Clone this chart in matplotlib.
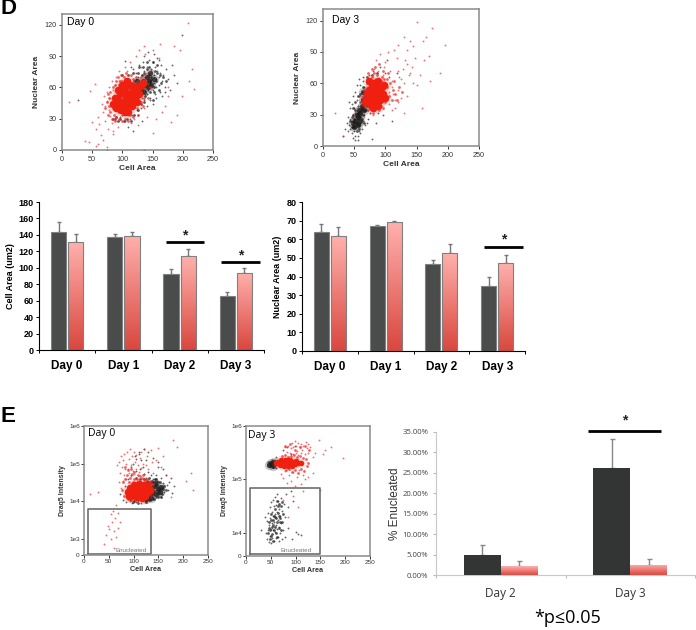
"""
Panels D and E: scatter plots of cell area against nuclear area / Draq5,
and the bar charts with the group means. Scatter points are read by eye,
thinned out; the dense centres are drawn with bigger markers.
"""
import numpy as np
from matplotlib import pyplot as plt

W, H = 696, 630
BLACK_BAR = '#4a4c4b'
DARK_BAR = '#333534'
TOP_RED = '#ffb0ac'
LOW_RED = '#d9483f'

# panel D, day 0
d0_black_x = [26, 75, 135, 88, 92, 96, 100, 104, 108, 112, 116, 118, 120, 122, 124, 126, 128, 128, 130, 130, 132, 132, 134, 134, 136, 136, 138, 138, 140, 140, 142, 142, 144, 144, 146, 146, 148, 148, 150, 150, 152, 152, 154, 154, 156, 156, 158, 158, 160, 160, 162, 162, 164, 166, 168, 170, 172, 175, 178, 182, 185, 190, 198, 110, 118, 125, 132, 140, 145, 150, 155, 165, 170, 105, 115, 122, 135, 143, 147, 153, 161]
d0_black_y = [48, 0, 0, 30, 36, 32, 34, 28, 36, 30, 34, 78, 42, 74, 38, 70, 46, 82, 40, 66, 72, 50, 58, 84, 48, 76, 62, 70, 54, 80, 66, 58, 72, 86, 50, 62, 76, 68, 58, 84, 64, 72, 54, 80, 68, 60, 76, 88, 62, 70, 74, 56, 82, 66, 72, 60, 78, 68, 58, 82, 72, 64, 110, 22, 18, 34, 28, 42, 48, 44, 50, 52, 56, 85, 80, 68, 90, 94, 78, 92, 86]
d0_red_x = [12, 38, 45, 46, 50, 55, 56, 57, 60, 62, 65, 66, 68, 70, 72, 72, 74, 75, 76, 78, 78, 80, 80, 82, 82, 84, 85, 85, 88, 90, 92, 95, 98, 100, 104, 105, 110, 112, 115, 120, 122, 125, 128, 130, 135, 138, 140, 145, 150, 155, 160, 163, 170, 175, 180, 185, 190, 195, 198, 208, 210, 215, 219, 60, 68, 74, 84, 88, 94, 100, 108, 120, 135, 150, 165, 175]
d0_red_y = [46, 9, 8, 57, 27, 63, 20, 4, 32, 25, 14, 44, 36, 52, 42, 28, 56, 47, 20, 38, 60, 33, 50, 26, 66, 44, 58, 15, 30, 70, 22, 76, 60, 34, 80, 28, 68, 84, 26, 74, 90, 24, 96, 80, 100, 92, 32, 76, 16, 30, 88, 102, 42, 60, 27, 100, 34, 96, 52, 122, 66, 78, 59, 6, 10, 3, 18, 62, 66, 72, 76, 30, 40, 96, 36, 52]
d0_core_x = [84, 88, 90, 94, 96, 98, 100, 102, 104, 106, 106, 108, 110, 110, 112, 114, 116, 116, 118, 120, 122, 124, 126, 128, 130, 134, 92, 100, 108, 114, 122, 96, 104]
d0_core_y = [44, 50, 40, 47, 54, 38, 46, 56, 41, 50, 60, 45, 36, 54, 62, 48, 42, 56, 61, 50, 57, 46, 60, 54, 62, 64, 58, 62, 66, 52, 52, 44, 36]
d0_dark_x = [130, 134, 138, 140, 142, 144, 146, 148, 152, 136, 124]
d0_dark_y = [58, 66, 62, 70, 60, 66, 74, 62, 68, 56, 66]
d0_mid_red_x = [72, 74, 76, 78, 78, 80, 80, 82, 82, 84, 84, 86, 88, 88, 90, 90, 92, 94, 96, 98, 100, 102, 104, 106, 110, 114, 118, 122, 126, 130, 134, 138, 142, 146, 76, 82, 88, 94, 100, 106, 112, 118, 124, 130, 136]
d0_mid_red_y = [40, 46, 34, 50, 42, 36, 56, 30, 46, 60, 40, 34, 62, 28, 66, 32, 70, 30, 66, 72, 28, 70, 30, 74, 28, 72, 32, 70, 34, 70, 42, 72, 50, 60, 54, 44, 30, 62, 66, 68, 34, 68, 40, 46, 50]
d0_mid_black_x = [90, 96, 102, 108, 114, 120, 126, 130, 132, 136, 138, 140, 144, 146, 148, 150, 152, 154, 156, 158, 160, 162, 164, 168, 172, 120, 126, 134, 140, 146, 152, 158, 128, 118, 110, 100, 92, 84, 136, 150]
d0_mid_black_y = [32, 30, 28, 30, 28, 34, 38, 44, 72, 74, 52, 78, 80, 56, 70, 84, 60, 76, 66, 82, 58, 72, 64, 70, 66, 66, 74, 80, 84, 66, 56, 74, 80, 74, 72, 72, 28, 30, 46, 48]

# panel D, day 3
d3_black_x = [32, 36, 38, 40, 40, 42, 42, 44, 44, 44, 46, 46, 46, 48, 48, 48, 50, 50, 50, 52, 52, 52, 54, 54, 54, 56, 56, 56, 58, 58, 58, 60, 60, 60, 62, 62, 62, 64, 64, 64, 66, 66, 68, 68, 70, 70, 72, 72, 74, 74, 76, 76, 78, 80, 82, 84, 88, 92, 96, 100, 105, 110, 118, 78, 85, 92, 102, 48, 52, 56, 60, 64, 70, 58, 66]
d3_black_y = [10, 16, 22, 14, 28, 20, 42, 16, 26, 36, 12, 24, 40, 18, 30, 48, 14, 24, 36, 10, 32, 52, 20, 44, 58, 6, 26, 38, 14, 48, 32, 22, 42, 58, 16, 34, 52, 24, 46, 62, 30, 56, 20, 40, 34, 62, 26, 50, 38, 68, 32, 60, 44, 72, 36, 64, 32, 76, 30, 70, 66, 24, 70, 7, 22, 38, 82, 8, 6, 10, 12, 66, 22, 64, 34]
d3_red_x = [19, 32, 45, 50, 55, 60, 65, 68, 72, 75, 78, 80, 82, 85, 88, 90, 92, 95, 96, 98, 100, 102, 104, 105, 108, 110, 112, 114, 115, 118, 120, 120, 122, 125, 128, 130, 130, 132, 135, 135, 138, 140, 142, 145, 145, 148, 150, 150, 155, 158, 160, 162, 165, 170, 172, 174, 188, 196, 105, 110, 115, 120, 125, 130, 135, 140, 100, 95, 90, 85, 110, 120]
d3_red_y = [32, 10, 22, 30, 36, 48, 28, 40, 62, 32, 68, 30, 74, 36, 72, 44, 88, 38, 68, 76, 46, 58, 90, 40, 72, 62, 50, 92, 44, 84, 54, 97, 66, 46, 74, 104, 60, 82, 48, 92, 68, 100, 76, 60, 96, 84, 119, 58, 68, 36, 100, 82, 104, 86, 62, 113, 70, 97, 52, 56, 36, 42, 64, 32, 78, 70, 80, 62, 58, 82, 34, 72]
d3_core_x = [68, 70, 72, 74, 76, 78, 78, 80, 82, 82, 84, 84, 86, 88, 88, 90, 92, 94, 96, 98, 74, 80, 88, 100]
d3_core_y = [42, 50, 46, 54, 40, 48, 58, 44, 52, 60, 40, 48, 56, 46, 62, 52, 44, 56, 50, 58, 62, 36, 38, 46]
d3_dark_x = [48, 52, 54, 56, 56, 58, 60, 60, 62, 64, 66, 68, 70, 64, 72, 50]
d3_dark_y = [22, 24, 30, 20, 28, 34, 24, 32, 38, 44, 34, 46, 40, 52, 54, 18]
d3_mid_red_x = [64, 66, 68, 70, 72, 74, 76, 78, 80, 82, 86, 90, 94, 96, 98, 100, 102, 104, 106, 108, 110, 112, 114, 116, 118, 122, 126, 72, 78, 84, 90, 96, 102]
d3_mid_red_y = [46, 54, 38, 60, 34, 64, 36, 66, 32, 70, 68, 34, 66, 36, 64, 42, 56, 70, 48, 60, 44, 54, 62, 50, 44, 56, 52, 70, 74, 76, 78, 72, 64]
d3_mid_black_x = [44, 46, 48, 50, 52, 54, 56, 58, 60, 62, 64, 66, 68, 70, 72, 74, 76, 78, 60, 64, 68, 70, 74, 78, 82, 86, 90, 52, 56, 48, 58, 62, 66, 54, 50, 46]
d3_mid_black_y = [24, 18, 30, 26, 34, 22, 32, 16, 28, 36, 30, 40, 34, 46, 38, 50, 36, 62, 50, 56, 52, 66, 60, 68, 34, 70, 38, 42, 48, 36, 20, 26, 22, 14, 18, 28]

# panel E, day 0, y as log10 of the Draq5 intensity
e0_black_x = [72, 78, 82, 85, 88, 90, 92, 95, 96, 98, 100, 102, 104, 105, 108, 110, 112, 115, 118, 120, 122, 125, 125, 128, 130, 130, 132, 135, 135, 138, 140, 140, 142, 145, 145, 148, 150, 150, 152, 155, 155, 158, 160, 162, 165, 168, 170, 172, 175, 178, 182, 110, 120, 130, 140, 150, 160, 105, 95, 115]
e0_black_y = [4.2, 4.02, 4.4, 3.98, 4.6, 4.1, 4.0, 4.7, 3.94, 5.0, 4.02, 5.2, 3.98, 4.8, 4.0, 5.25, 4.85, 3.96, 4.9, 4.72, 4.0, 4.62, 5.1, 4.05, 4.78, 4.55, 4.02, 4.7, 4.25, 4.5, 4.6, 4.05, 4.4, 4.7, 4.12, 4.55, 4.3, 4.9, 4.2, 4.62, 4.12, 4.35, 4.48, 4.25, 4.7, 4.42, 4.3, 4.5, 4.62, 4.22, 4.4, 5.3, 5.4, 5.3, 5.15, 5.05, 4.85, 5.12, 4.92, 5.1]
e0_red_x = [12, 28, 45, 48, 54, 56, 58, 60, 62, 64, 65, 66, 68, 70, 70, 72, 74, 75, 76, 78, 78, 80, 80, 82, 84, 85, 86, 88, 90, 90, 92, 94, 95, 96, 98, 100, 100, 102, 105, 105, 108, 110, 112, 114, 115, 118, 120, 120, 125, 128, 130, 135, 138, 140, 145, 150, 155, 160, 165, 175, 180, 187, 205, 215, 220, 40, 50, 55, 60, 68, 72]
e0_red_y = [4.2, 4.25, 3.1, 3.35, 3.65, 3.45, 3.75, 3.2, 3.55, 3.05, 3.9, 4.95, 3.7, 4.5, 5.05, 4.75, 5.2, 4.35, 4.9, 5.1, 4.55, 4.7, 5.25, 4.85, 5.0, 4.6, 5.3, 4.85, 4.75, 5.12, 5.38, 4.95, 4.68, 5.2, 4.8, 4.72, 5.3, 5.05, 4.85, 5.22, 4.95, 4.78, 5.15, 4.88, 5.32, 5.0, 4.72, 5.4, 4.95, 5.2, 4.85, 5.35, 5.05, 4.75, 5.1, 5.42, 4.9, 5.2, 4.7, 4.1, 5.62, 5.45, 4.55, 4.75, 4.3, 2.85, 3.25, 3.0, 2.75, 3.3, 3.45]
e0_core_x = [88, 92, 94, 98, 100, 102, 104, 106, 108, 110, 112, 114, 116, 118, 120, 122, 124, 126, 128, 130, 96, 110, 118, 104, 90, 134]
e0_core_y = [4.25, 4.35, 4.15, 4.3, 4.42, 4.2, 4.35, 4.1, 4.28, 4.45, 4.18, 4.33, 4.08, 4.25, 4.42, 4.15, 4.32, 4.22, 4.4, 4.26, 4.22, 4.35, 4.36, 4.28, 4.15, 4.3]
e0_dark_x = [130, 134, 138, 142, 146, 150, 154, 136, 144, 126, 156, 128]
e0_dark_y = [4.15, 4.35, 4.22, 4.4, 4.18, 4.32, 4.25, 4.08, 4.48, 4.05, 4.38, 4.48]
e0_mid_red_x = [76, 78, 80, 82, 84, 86, 88, 90, 92, 94, 96, 98, 100, 104, 108, 112, 116, 120, 124, 128, 132, 136, 140, 82, 88, 94, 100, 106, 112, 118]
e0_mid_red_y = [4.3, 4.5, 4.15, 4.6, 4.28, 4.7, 4.05, 4.5, 4.62, 4.03, 4.72, 4.52, 4.6, 4.02, 4.7, 4.55, 4.62, 4.6, 4.55, 4.6, 4.5, 4.55, 4.45, 4.9, 4.82, 4.85, 4.78, 4.6, 4.68, 4.7]
e0_mid_black_x = [100, 108, 116, 124, 130, 134, 138, 142, 146, 150, 154, 158, 162, 166, 120, 126, 132, 138, 144, 150, 156, 92, 98, 104, 112, 86, 148, 160, 142, 134]
e0_mid_black_y = [4.0, 3.96, 4.02, 3.98, 4.1, 4.02, 4.55, 4.05, 4.6, 4.1, 4.5, 4.2, 4.4, 4.3, 4.58, 4.02, 4.62, 4.5, 4.58, 4.5, 4.12, 4.05, 3.98, 4.62, 4.6, 4.15, 4.42, 4.32, 4.28, 4.5]

# panel E, day 3
e3_black_x = [30, 38, 40, 42, 42, 44, 44, 46, 46, 48, 48, 48, 50, 50, 50, 52, 52, 52, 54, 54, 54, 56, 56, 56, 58, 58, 58, 60, 60, 60, 62, 62, 62, 64, 64, 64, 66, 66, 68, 68, 70, 70, 72, 74, 76, 78, 80, 84, 90, 95, 105, 110, 66, 72, 78, 84, 92, 100, 44, 48, 52, 60, 74, 82, 90, 98, 72, 60, 54, 50]
e3_black_y = [4.05, 4.3, 4.0, 4.22, 3.88, 4.05, 4.38, 3.84, 4.15, 4.48, 3.95, 4.28, 4.08, 3.82, 4.58, 4.18, 3.9, 4.4, 4.05, 4.32, 4.62, 3.85, 4.2, 4.5, 4.02, 4.35, 4.68, 3.9, 4.15, 4.52, 4.08, 4.4, 4.72, 3.92, 4.25, 4.6, 4.12, 4.45, 4.0, 4.32, 4.18, 4.66, 4.42, 4.05, 4.55, 4.3, 4.72, 4.48, 4.78, 4.6, 3.98, 3.96, 3.85, 3.88, 3.92, 4.1, 3.88, 4.02, 5.32, 5.27, 5.36, 5.42, 5.56, 5.6, 5.48, 5.62, 5.35, 5.22, 5.24, 5.3]
e3_red_x = [78, 82, 85, 88, 90, 92, 95, 95, 98, 100, 100, 102, 105, 105, 108, 110, 110, 112, 115, 118, 120, 122, 125, 125, 130, 135, 140, 148, 155, 160, 172, 195, 70, 74, 78, 82, 86, 90, 94, 98, 102, 106, 110, 114, 118, 75, 85, 95, 105, 115, 125, 135, 150]
e3_red_y = [5.6, 5.52, 5.62, 5.5, 5.58, 5.68, 5.48, 5.6, 5.72, 5.5, 5.62, 5.54, 5.68, 5.46, 5.6, 5.5, 5.66, 5.56, 5.62, 5.48, 5.7, 5.58, 5.5, 5.66, 5.6, 5.42, 5.5, 5.74, 5.48, 5.55, 5.6, 5.4, 5.1, 5.02, 5.16, 4.94, 5.08, 4.98, 5.14, 4.88, 5.04, 5.18, 4.92, 5.08, 5.0, 4.62, 4.3, 4.7, 4.48, 4.78, 5.05, 5.12, 4.8]
e3_core_x = [60, 64, 68, 70, 72, 76, 78, 80, 84, 84, 88, 88, 92, 94, 98, 100, 104, 110, 74]
e3_core_y = [5.3, 5.33, 5.28, 5.36, 5.31, 5.26, 5.36, 5.31, 5.25, 5.37, 5.3, 5.36, 5.26, 5.33, 5.29, 5.34, 5.3, 5.31, 5.33]
e3_dark_x = [46, 50, 54, 56]
e3_dark_y = [5.27, 5.31, 5.26, 5.33]
e3_mid_red_x = [72, 78, 84, 90, 96, 102, 108, 114, 120, 126, 80, 86, 92, 98, 104, 110, 116, 122, 78, 88, 98, 108, 118, 128]
e3_mid_red_y = [5.43, 5.46, 5.42, 5.44, 5.45, 5.42, 5.44, 5.4, 5.38, 5.3, 5.17, 5.2, 5.14, 5.18, 5.12, 5.2, 5.16, 5.26, 5.62, 5.66, 5.56, 5.6, 5.62, 5.55]
e3_mid_black_x = [44, 46, 48, 50, 52, 54, 56, 58, 60, 62, 64, 66, 68, 70, 72, 46, 50, 54, 58, 62, 66, 70, 74, 48, 52, 56, 60, 64, 68, 72, 50, 54, 58, 62, 66]
e3_mid_black_y = [4.0, 4.1, 3.88, 4.25, 3.98, 4.15, 4.05, 4.3, 4.0, 4.2, 4.38, 4.1, 4.28, 4.5, 4.2, 4.2, 4.35, 3.85, 4.45, 3.92, 4.55, 4.05, 4.35, 4.05, 4.12, 4.32, 4.28, 4.5, 4.2, 4.58, 3.95, 4.25, 4.12, 4.6, 4.32]

# bar charts
days_d = ['Day 0', 'Day 1', 'Day 2', 'Day 3']
cell_black = [143, 137, 92, 66]
cell_red = [131, 139, 114, 94]
cell_black_err = [13, 4, 7, 4]
cell_red_err = [10, 5, 9, 6]
nuc_black = [64, 67, 46.5, 35]
nuc_red = [61.5, 69, 52.5, 47]
nuc_black_err = [4, 0.5, 2.5, 4.5]
nuc_red_err = [5, 1, 5, 4.5]
days_e = ['Day 2', 'Day 3']
enuc_black = [4.8, 26.1]
enuc_red = [2.2, 2.5]
enuc_black_err = [2.6, 7.1]
enuc_red_err = [1.3, 1.3]


def axes_px(left, top, right, bottom):
  return fig.add_axes([left / W, 1 - bottom / H,
    (right - left) / W, (bottom - top) / H])


def scatter_panel(ax, black, red, core, dark, mid_black, mid_red, core_size=30):
  ax.scatter(*black, s=1.8, color='#222222', linewidths=0, alpha=0.7)
  ax.scatter(*mid_black, s=4, color='#222222', linewidths=0, alpha=0.75)
  ax.scatter(*dark, s=45, color='#202020', linewidths=0, alpha=0.25)
  ax.scatter(*dark, s=14, color='#1a1a1a', linewidths=0, alpha=0.8)
  ax.scatter(*red, s=1.8, color='#ee3030', linewidths=0, alpha=0.7)
  ax.scatter(*mid_red, s=4, color='#ee2a2a', linewidths=0, alpha=0.75)
  ax.scatter(*core, s=core_size * 3, color='#e84030', linewidths=0, alpha=0.12)
  ax.scatter(*core, s=core_size, color='#f02010', linewidths=0)
  ax.set_xlim(0, 250)
  ax.set_xticks([0, 50, 100, 150, 200, 250])
  for spine in ['top', 'right', 'left', 'bottom']:
    ax.spines[spine].set_color('#8a8a8a')
    ax.spines[spine].set_linewidth(1.1)


def gradient_bars(ax, bars):
  # the red bars fade from pink at the top to red at the bottom
  colors = plt.matplotlib.colors.LinearSegmentedColormap.from_list(
    'fade', [LOW_RED, TOP_RED])
  for bar in bars:
    x0, y0 = bar.get_x(), bar.get_y()
    im = ax.imshow(np.linspace(1, 0, 64).reshape(-1, 1), cmap=colors,
      aspect='auto', zorder=2, interpolation='bilinear',
      extent=(x0, x0 + bar.get_width(), y0, y0 + bar.get_height()))
    im.set_clip_path(bar)


def bar_panel(ax, days, black, red, black_err, red_err, black_color, width,
    edge='#808080'):
  pos = np.arange(len(days))
  shift = width / 2 + 0.018
  ax.errorbar(pos - shift, black, yerr=[np.zeros(len(pos)), black_err],
    fmt='none', ecolor='#777777', elinewidth=1, capsize=1.6, zorder=1)
  ax.errorbar(pos + shift, red, yerr=[np.zeros(len(pos)), red_err],
    fmt='none', ecolor='#777777', elinewidth=1, capsize=1.6, zorder=1)
  ax.bar(pos - shift, black, width, color=black_color,
    edgecolor=edge, linewidth=0.8, zorder=3)
  bars = ax.bar(pos + shift, red, width, color=TOP_RED, zorder=1.5)
  gradient_bars(ax, bars)
  ax.bar(pos + shift, red, width, facecolor='none', edgecolor=edge,
    linewidth=0.8, zorder=3)
  ax.set_xlim(-0.5, len(days) - 0.5)
  ax.set_xticks(np.arange(len(days) + 1) - 0.5)
  ax.set_xticklabels([])
  ax.set_xticks(pos, minor=True)
  ax.set_xticklabels(days, minor=True)
  ax.tick_params(axis='x', which='minor', length=0)
  ax.spines['top'].set_visible(False)
  ax.spines['right'].set_visible(False)


def star_line(ax, x0, x1, y, star_y):
  ax.plot([x0, x1], [y, y], color='black', lw=2, clip_on=False, zorder=5,
    solid_capstyle='butt')
  ax.text((x0 + x1) / 2, star_y, '*', ha='center', va='center', fontsize=10,
    fontweight='bold', family='Liberation Sans', color='#222222')


plt.rcParams['font.family'] = ['Liberation Sans', 'DejaVu Sans']
fig = plt.figure(figsize=(W / 100, H / 100), dpi=100)

fig.text(1 / W, 1 - 9 / H, 'D', fontsize=16, fontweight='bold', va='center')
fig.text(1 / W, 1 - 416 / H, 'E', fontsize=16, fontweight='bold', va='center')

# scatter plots of panel D
ax = axes_px(62, 14, 213, 150)
scatter_panel(ax, (d0_black_x, d0_black_y), (d0_red_x, d0_red_y),
  (d0_core_x, d0_core_y), (d0_dark_x, d0_dark_y),
  (d0_mid_black_x, d0_mid_black_y), (d0_mid_red_x, d0_mid_red_y))
ax.set_ylim(0, 130.5)
ax.set_yticks([0, 30, 60, 90, 120])
ax.tick_params(labelsize=5.2, length=2.5, pad=1.5, width=0.7, colors='#333333')
ax.set_xlabel('Cell Area', fontsize=6, fontweight='bold', color='#333333', labelpad=1.5)
ax.set_ylabel('Nuclear Area', fontsize=6, fontweight='bold', color='#333333', labelpad=3)
ax.text(0.03, 0.94, 'Day 0', transform=ax.transAxes, fontsize=7.5, va='center')

ax = axes_px(323, 9, 479, 146)
scatter_panel(ax, (d3_black_x, d3_black_y), (d3_red_x, d3_red_y),
  (d3_core_x, d3_core_y), (d3_dark_x, d3_dark_y),
  (d3_mid_black_x, d3_mid_black_y), (d3_mid_red_x, d3_mid_red_y))
ax.set_ylim(0, 131)
ax.set_yticks([0, 30, 60, 90, 120])
ax.tick_params(labelsize=5.2, length=2.5, pad=1.5, width=0.7, colors='#333333')
ax.set_xlabel('Cell Area', fontsize=6, fontweight='bold', color='#333333', labelpad=1.5)
ax.set_ylabel('Nuclear Area', fontsize=6, fontweight='bold', color='#333333', labelpad=3)
ax.text(0.06, 0.92, 'Day 3', transform=ax.transAxes, fontsize=7.5, va='center')

# bar charts of panel D
ax = axes_px(39, 202, 264, 350)
bar_panel(ax, days_d, cell_black, cell_red, cell_black_err, cell_red_err,
  BLACK_BAR, 0.27)
ax.set_ylim(0, 180)
ax.set_yticks(np.arange(0, 181, 20))
ax.tick_params(axis='y', labelsize=6.5, length=2, pad=2, width=0.7)
ax.tick_params(axis='x', which='major', length=2, width=0.7)
ax.tick_params(axis='x', which='minor', labelsize=8.5, pad=7)
for label in ax.get_yticklabels() + ax.get_xticklabels(minor=True):
  label.set_fontweight('bold')
ax.set_ylabel('Cell Area (um2)', fontsize=6.5, fontweight='bold', labelpad=2)
star_line(ax, 1.75, 2.44, 131, 139)
star_line(ax, 2.74, 3.43, 107, 115)

ax = axes_px(302, 202, 525, 351)
bar_panel(ax, days_d, nuc_black, nuc_red, nuc_black_err, nuc_red_err,
  BLACK_BAR, 0.27)
ax.set_ylim(0, 80)
ax.set_yticks(np.arange(0, 81, 10))
ax.tick_params(axis='y', labelsize=6.5, length=2, pad=2, width=0.7)
ax.tick_params(axis='x', which='major', length=2, width=0.7)
ax.tick_params(axis='x', which='minor', labelsize=8.5, pad=7)
for label in ax.get_yticklabels() + ax.get_xticklabels(minor=True):
  label.set_fontweight('bold')
ax.set_ylabel('Nuclear Area (um2)', fontsize=6.5, fontweight='bold', labelpad=3)
star_line(ax, 2.77, 3.47, 55.7, 60)

# scatter plots of panel E
ax = axes_px(84, 426, 208, 555)
scatter_panel(ax, (e0_black_x, e0_black_y), (e0_red_x, e0_red_y),
  (e0_core_x, e0_core_y), (e0_dark_x, e0_dark_y),
  (e0_mid_black_x, e0_mid_black_y), (e0_mid_red_x, e0_mid_red_y))
ax.set_ylim(2.57, 6)
ax.set_yticks([2.57, 3, 4, 5, 6])
ax.set_yticklabels(['0', '1e3', '1e4', '1e5', '1e6'])
ax.tick_params(labelsize=4.6, length=2, pad=1, width=0.7, colors='#333333')
ax.set_xlabel('Cell Area', fontsize=5.2, fontweight='bold', color='#333333', labelpad=1.5)
ax.set_ylabel('Draq5 Intensity', fontsize=5, fontweight='bold', color='#333333', labelpad=2)
ax.text(0.035, 0.94, 'Day 0', transform=ax.transAxes, fontsize=7.5, va='center',
  family=['Open Sans', 'DejaVu Sans'])
ax.plot([8, 135, 135, 8, 8], [2.6, 2.6, 3.8, 3.8, 2.6], color='#6e6e6e', lw=1.2)
ax.text(95, 2.68, 'Enucleated', fontsize=4.5, color='#777777', va='center', ha='center')

ax = axes_px(246, 426, 370, 556)
scatter_panel(ax, (e3_black_x, e3_black_y), (e3_red_x, e3_red_y),
  (e3_core_x, e3_core_y), (e3_dark_x, e3_dark_y),
  (e3_mid_black_x, e3_mid_black_y), (e3_mid_red_x, e3_mid_red_y), core_size=16)
ax.set_ylim(3.57, 6)
ax.set_yticks([3.57, 4, 5, 6])
ax.set_yticklabels(['0', '1e4', '1e5', '1e6'])
ax.tick_params(labelsize=4.6, length=2, pad=1, width=0.7, colors='#333333')
ax.set_xlabel('Cell Area', fontsize=5.2, fontweight='bold', color='#333333', labelpad=1.5)
ax.set_ylabel('Draq5 Intensity', fontsize=5, fontweight='bold', color='#333333', labelpad=2)
ax.text(0.015, 0.93, 'Day 3', transform=ax.transAxes, fontsize=7.5, va='center',
  family=['Open Sans', 'DejaVu Sans'])
ax.plot([8, 150, 150, 8, 8], [3.6, 3.6, 4.85, 4.85, 3.6], color='#6e6e6e', lw=1.2)
ax.text(100, 3.68, 'Enucleated', fontsize=4.5, color='#777777', va='center', ha='center')

# enucleated percentages
ax = axes_px(436, 432, 695, 575)
pos = np.arange(len(days_e))
ax.errorbar(pos - 0.142, enuc_black, yerr=[[0, 0], enuc_black_err], fmt='none',
  ecolor='#888888', elinewidth=1, capsize=1.8, zorder=1)
ax.errorbar(pos + 0.142, enuc_red, yerr=[[0, 0], enuc_red_err], fmt='none',
  ecolor='#888888', elinewidth=1, capsize=1.8, zorder=1)
ax.bar(pos - 0.142, enuc_black, 0.284, color=DARK_BAR, zorder=3)
red_bars = ax.bar(pos + 0.142, enuc_red, 0.284, color=TOP_RED, zorder=1.5)
gradient_bars(ax, red_bars)
ax.set_xlim(-0.5, 1.5)
ax.set_ylim(0, 35)
ax.set_xticks([-0.5, 0.5, 1.5])
ax.set_xticklabels([])
ax.set_xticks(pos, minor=True)
ax.set_xticklabels(days_e, minor=True, fontsize=8.5, color='#333333',
  family=['Open Sans', 'DejaVu Sans'])
ax.tick_params(axis='x', which='minor', length=0, pad=9)
ax.tick_params(axis='x', which='major', length=2.5, color='#bbbbbb')
ax.set_yticks(np.arange(0, 36, 5))
ax.set_yticklabels(['%.2f%%' % v for v in np.arange(0, 36, 5)], fontsize=5.6,
  color='#444444', family=['Open Sans', 'DejaVu Sans'])
ax.tick_params(axis='y', length=2.5, pad=3, color='#bbbbbb')
ax.spines['top'].set_visible(False)
ax.spines['right'].set_visible(False)
ax.spines['left'].set_color('#c8c8c8')
ax.spines['bottom'].set_color('#c8c8c8')
ax.set_ylabel('% Enucleated', fontsize=8.5, color='#333333', labelpad=1)
star_line(ax, 0.67, 1.24, 35.2, 37.8)

fig.text(568 / W, 1 - 618 / H, '*p≤0.05', fontsize=13, ha='center', va='center',
  family=['Open Sans', 'DejaVu Sans'])

fig.savefig('out.png', dpi=100)
